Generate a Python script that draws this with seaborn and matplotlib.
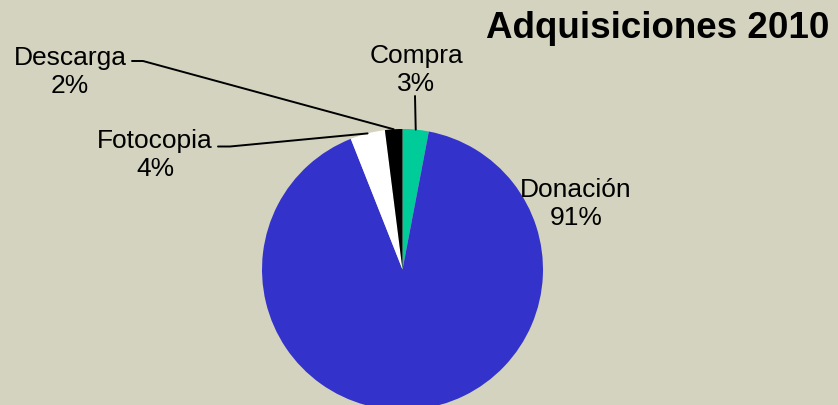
import numpy as np
import matplotlib
matplotlib.use("Agg")
import matplotlib.pyplot as plt
import seaborn as sns

labels = ["Compra", "Donación", "Fotocopia", "Descarga"]
values = [3, 91, 4, 2]
colors = ["#00CC99", "#3333CC", "#FFFFFF", "#000000"]
title = "Adquisiciones 2010"

sns.set_style("white")
plt.rcParams["font.family"] = ["Liberation Sans", "DejaVu Sans"]

W, H = 838, 406
bg = "#D4D3BF"
fig = plt.figure(figsize=(W / 100, H / 100), dpi=100, facecolor=bg)

# pie box in pixels: centre (402.5, 270.5), radius 140.5
cx, cy, r = 402.5, 270.5, 140.5
ax = fig.add_axes([(cx - r) / W, (H - cy - r) / H, 2 * r / W, 2 * r / H])
ax.set_facecolor(bg)
ax.axis("off")

wedges, _ = ax.pie(values, colors=colors, startangle=90, counterclock=False,
                   radius=1, wedgeprops=dict(linewidth=0), frame=False)
ax.set_xlim(-1, 1)
ax.set_ylim(-1, 1)
for w in wedges:
    w.set_clip_on(False)


def px2data(px, py):
    disp = fig.transFigure.transform((px / W, 1 - py / H))
    return ax.transData.inverted().transform(disp)


def edge(w):
    a = np.deg2rad((w.theta1 + w.theta2) / 2)
    return np.cos(a), np.sin(a)


fs = 19
# label positions (pixel centres of two-line blocks) and leader bend points
lab_pos = {
    "Compra": (416, 70),
    "Donación": (576, 204),
    "Fotocopia": (155, 155),
    "Descarga": (70, 72),
}
leaders = {
    "Compra": [(415, 97)],
    "Fotocopia": [(230, 147.5), (218, 147.5)],
    "Descarga": [(143, 62), (132, 62)],
}

total = sum(values)
for w, lab, v in zip(wedges, labels, values):
    tx, ty = lab_pos[lab]
    x, y = px2data(tx, ty)
    ax.text(x, y, f"{lab}\n{round(100 * v / total)}%", ha="center", va="center",
            fontsize=fs, linespacing=1.17, color="black", clip_on=False)
    if lab in leaders:
        pts = [edge(w)] + [tuple(px2data(*p)) for p in leaders[lab]]
        xs, ys = zip(*pts)
        ax.plot(xs, ys, color="black", lw=1.4, clip_on=False)

fig.text(658 / W, 1 - 29 / H, title, ha="center", va="center",
         fontsize=26.5, fontweight="bold", color="black")

fig.savefig("out.png", dpi=100, facecolor=bg)
